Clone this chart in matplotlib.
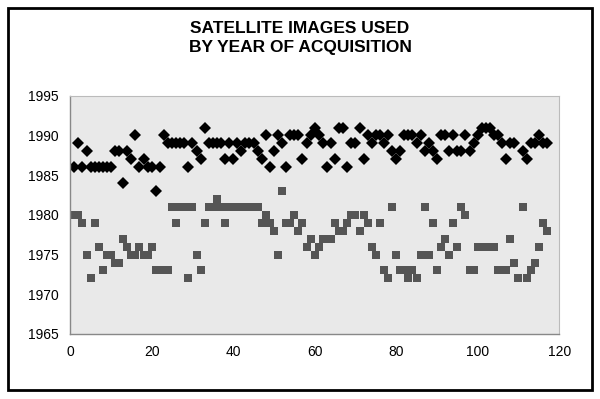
import numpy as np
import matplotlib
matplotlib.use("Agg")
import matplotlib.pyplot as plt
from matplotlib.patches import Rectangle

plt.rcParams['font.family'] = ['Liberation Sans', 'DejaVu Sans']

title = "SATELLITE IMAGES USED\nBY YEAR OF ACQUISITION"

# index of each scene
scene = list(range(1, 118))

# later image (black diamonds)
later = [1986, 1989, 1986, 1988, 1986, 1986, 1986, 1986, 1986, 1986,
         1988, 1988, 1984, 1988, 1987, 1990, 1986, 1987, 1986, 1986,
         1983, 1986, 1990, 1989, 1989, 1989, 1989, 1989, 1986, 1989,
         1988, 1987, 1991, 1989, 1989, 1989, 1989, 1987, 1989, 1987,
         1989, 1988, 1989, 1989, 1989, 1988, 1987, 1990, 1986, 1988,
         1990, 1989, 1986, 1990, 1990, 1990, 1987, 1989, 1990, 1991,
         1990, 1989, 1986, 1989, 1987, 1991, 1991, 1986, 1989, 1989,
         1991, 1987, 1990, 1989, 1990, 1990, 1989, 1990, 1988, 1987,
         1988, 1990, 1990, 1990, 1989, 1990, 1988, 1989, 1988, 1987,
         1990, 1990, 1988, 1990, 1988, 1988, 1990, 1988, 1989, 1990,
         1991, 1991, 1991, 1990, 1990, 1989, 1987, 1989, 1989, np.nan,
         1988, 1987, 1989, 1989, 1990, 1989, 1989]

# earlier image (gray squares)
earlier = [1980, 1980, 1979, 1975, 1972, 1979, 1976, 1973, 1975, 1975,
           1974, 1974, 1977, 1976, 1975, 1975, 1976, 1975, 1975, 1976,
           1973, 1973, 1973, 1973, 1981, 1979, 1981, 1981, 1972, 1981,
           1975, 1973, 1979, 1981, 1981, 1982, 1981, 1979, 1981, 1981,
           1981, 1981, 1981, 1981, 1981, 1981, 1979, 1980, 1979, 1978,
           1975, 1983, 1979, 1979, 1980, 1978, 1979, 1976, 1977, 1975,
           1976, 1977, 1977, 1977, 1979, 1978, 1978, 1979, 1980, 1980,
           1978, 1980, 1979, 1976, 1975, 1979, 1973, 1972, 1981, 1975,
           1973, 1973, 1972, 1973, 1972, 1975, 1981, 1975, 1979, 1973,
           1976, 1977, 1975, 1979, 1976, 1981, 1980, 1973, 1973, 1976,
           1976, 1976, 1976, 1976, 1973, 1973, 1973, 1977, 1974, 1972,
           1981, 1972, 1973, 1974, 1976, 1979, 1978]

x_ticks = [0, 20, 40, 60, 80, 100, 120]
y_ticks = [1965, 1970, 1975, 1980, 1985, 1990, 1995]

fig = plt.figure(figsize=(6.0, 3.99), dpi=100)
fig.patch.set_facecolor('white')
fig.patches.append(Rectangle((0.014, 0.022), 0.972, 0.958, transform=fig.transFigure,
                             fill=False, edgecolor='black', linewidth=2.0))

ax = fig.add_axes([0.117, 0.163, 0.815, 0.597])
ax.set_facecolor('#e9e9e9')

ax.plot(scene, earlier, linestyle='none', marker='s', markersize=6.2,
        markerfacecolor='#555555', markeredgecolor='#555555', markeredgewidth=0)
ax.plot(scene, later, linestyle='none', marker='D', markersize=6.0,
        markerfacecolor='black', markeredgecolor='black', markeredgewidth=0)

ax.set_xlim(0, 120)
ax.set_ylim(1965, 1995)
ax.set_xticks(x_ticks)
ax.set_yticks(y_ticks)
ax.tick_params(axis='both', length=0, labelsize=10, pad=8, colors='black')
for s in ['top', 'right']:
    ax.spines[s].set_color('#bbbbbb')
    ax.spines[s].set_linewidth(0.8)
for s in ['left', 'bottom']:
    ax.spines[s].set_color('#888888')
    ax.spines[s].set_linewidth(1.0)

fig.text(0.5, 0.905, title, ha='center', va='center', fontsize=12.5,
         fontweight='bold', linespacing=1.35)

fig.savefig('out.png', dpi=100)
